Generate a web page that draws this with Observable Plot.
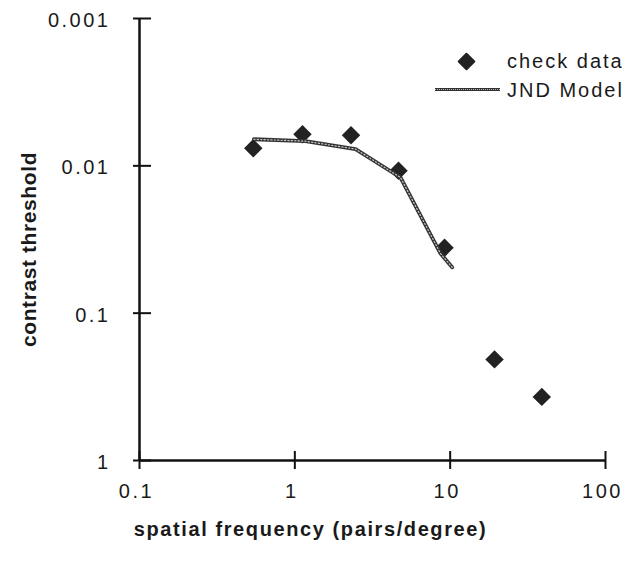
<!DOCTYPE html>
<html>
<head>
<meta charset="utf-8">
<script src="https://cdn.jsdelivr.net/npm/d3@7"></script>
<script src="https://cdn.jsdelivr.net/npm/@observablehq/plot@0.6"></script>
<style>
  html, body { margin: 0; padding: 0; background: #fff; overflow: hidden; }
  #wrap { position: relative; width: 639px; height: 561px; font-family: "Liberation Sans", Arial, Helvetica, sans-serif; color: #111; }
  #wrap svg { display: block; }
  g[aria-label="x-axis tick label"] text, g[aria-label="y-axis tick label"] text { letter-spacing: 2.5px; }
  .legend { position: absolute; left: 0; top: 0; width: 639px; height: 120px; pointer-events: none; }
  .legend .lbl { position: absolute; font-size: 20px; line-height: 20px; letter-spacing: 2px; color: #1a1a1a; white-space: nowrap; }
  .legend .dia { position: absolute; width: 13px; height: 13px; background: #222; transform: rotate(45deg); border-radius: 1px; }
  .legend .ln { position: absolute; height: 3px; background: #333; }
  .legend .ln2 { position: absolute; height: 0; border-top: 1px dotted #bbb; }
</style>
</head>
<body>
<div id="wrap"></div>
<script>
// ---- data ----
const freq = [0.54, 1.12, 2.3, 4.65, 9.2, 19.3, 38.9];           // spatial frequency (pairs/degree)
const threshold = [0.0076, 0.0061, 0.0062, 0.0108, 0.036, 0.206, 0.37]; // check data
const modelFreq = [0.545, 1.17, 2.46, 4.79, 8.67, 10.3];          // JND Model
const modelThreshold = [0.0066, 0.0068, 0.0077, 0.012, 0.0394, 0.0488];
const xTicks = [0.1, 1, 10, 100];
const yTicks = [0.001, 0.01, 0.1, 1];
const xLabel = "spatial frequency (pairs/degree)";
const yLabel = "contrast threshold";
const legendLabels = ["check data", "JND Model"];

const points = freq.map((f, i) => ({f, t: threshold[i]}));
const model = modelFreq.map((f, i) => ({f, t: modelThreshold[i]}));

const W = 639, H = 561, mL = 139, mR = 34, mT = 18, mB = 101;
const fw = W - mL - mR, fh = H - mT - mB;
const ink = "#111";

const chart = Plot.plot({
  width: W, height: H,
  marginLeft: mL, marginRight: mR, marginTop: mT, marginBottom: mB,
  style: {fontFamily: '"Liberation Sans", Arial, Helvetica, sans-serif', fontSize: "20px", background: "#fff", color: ink, overflow: "visible"},
  x: {type: "log", domain: [0.1, 100]},
  y: {type: "log", domain: [0.001, 1], reverse: true},
  marks: [
    Plot.axisX(xTicks, {tickSize: 0, tickPadding: 23, tickFormat: d => String(d), label: null, fontSize: 20, dx: -3, fill: "#1a1a1a"}),
    Plot.axisY(yTicks, {tickSize: 0, tickPadding: 29, tickFormat: d => String(d), label: null, fontSize: 20, dy: 2, fill: "#1a1a1a"}),
    Plot.ruleX([0.1], {stroke: ink, strokeWidth: 2.5}),
    Plot.ruleY([1], {stroke: ink, strokeWidth: 2.5}),
    Plot.tickY(yTicks, {y: d => d, insetLeft: -6, insetRight: fw - 12, stroke: ink, strokeWidth: 2}),
    Plot.tickX(xTicks, {x: d => d, insetTop: fh - 9, insetBottom: -9, stroke: ink, strokeWidth: 2}),
    Plot.dot(points, {x: "f", y: "t", symbol: "diamond2", r: 8.3, fill: "#222", stroke: "none"}),
    Plot.line(model, {x: "f", y: "t", stroke: "#333", strokeWidth: 3.8}),
    Plot.line(model, {x: "f", y: "t", stroke: "#c8c8c8", strokeWidth: 1.2, strokeDasharray: "1.2,2.2"}),
    Plot.text([xLabel], {text: d => d, frameAnchor: "bottom", textAnchor: "middle", dx: -62, dy: 75, fontWeight: "bold", fontSize: 20, fill: "#1a1a1a"}),
    Plot.text([yLabel], {text: d => d, frameAnchor: "left", textAnchor: "middle", rotate: -90, dx: -110, dy: 10, fontWeight: "bold", fontSize: 21, fill: "#1a1a1a"})
  ]
});

const wrap = document.getElementById("wrap");
wrap.appendChild(chart);
// letter-spacing on axis titles
chart.querySelectorAll('g[aria-label="text"] text').forEach(t => {
  if (t.textContent === xLabel) t.style.letterSpacing = "1.6px";
  if (t.textContent === yLabel) t.style.letterSpacing = "0.6px";
});

// legend (overlay inside the plot area)
const lg = document.createElement("div");
lg.className = "legend";
lg.innerHTML = `
  <div class="dia" style="left:460px;top:55px"></div>
  <div class="lbl" style="left:507px;top:51px">${legendLabels[0]}</div>
  <div class="ln" style="left:435px;top:88px;width:65px"></div>
  <div class="ln2" style="left:435px;top:89px;width:65px"></div>
  <div class="lbl" style="left:507px;top:80px">${legendLabels[1]}</div>`;
wrap.appendChild(lg);
</script>
</body>
</html>
